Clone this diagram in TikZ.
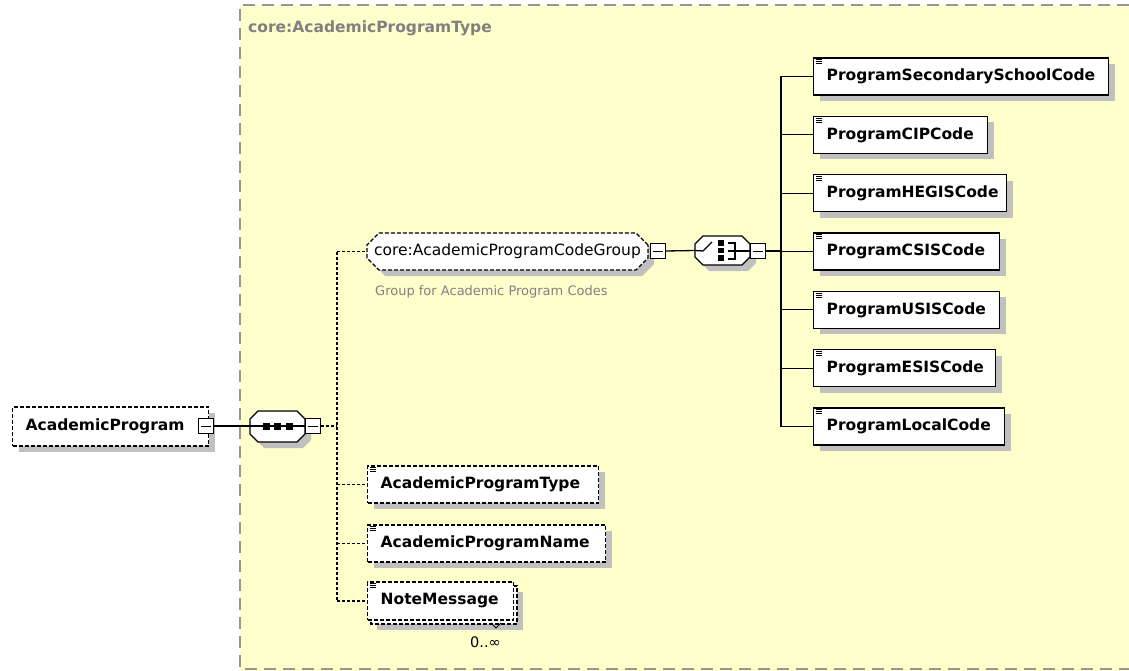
\documentclass[tikz,border=0pt]{standalone}
\usepackage{fontspec}
\setmainfont{DejaVu Sans}
\usetikzlibrary{shapes.misc,shadows}
\definecolor{bgyellow}{RGB}{255,255,204}
\definecolor{shadowgray}{RGB}{192,192,192}
\definecolor{framegray}{RGB}{150,150,150}
\definecolor{textgray}{RGB}{128,128,128}
\newcommand\nf{\fontsize{15.5}{18}\selectfont}
\newcommand\descfont{\fontsize{13}{15}\selectfont}
\tikzset{
  shd/.style={drop shadow={shadow xshift=6pt,shadow yshift=-6pt,fill=shadowgray,opacity=1}},
  ebase/.style={draw=black,fill=white,line width=1.3pt,minimum height=37pt,inner xsep=0pt,inner ysep=0pt,align=left,anchor=west,font=\bfseries\nf},
  ebox/.style={ebase,shd},
  optdash/.style={dash pattern=on 4pt off 2pt},
  optbox/.style={ebox,optdash},
  minusbox/.style={draw=black,fill=white,line width=1pt,minimum size=15pt,inner sep=0pt},
  anch/.style={draw=none,inner sep=0pt,minimum width=55pt,minimum height=30pt},
  octline/.style={draw=black,fill=white,line width=1.3pt},
  conn/.style={line width=1.3pt},
  dconn/.style={line width=1.2pt,dash pattern=on 3pt off 2pt},
  icon/.style={line width=0.8pt},
}
\begin{document}
\begin{tikzpicture}[x=1pt,y=-1pt]
\useasboundingbox (0,0) rectangle (1129,671);
% background frame
\fill[bgyellow] (240,5) rectangle (1135,671);
\draw[framegray,line width=1.5pt,dash pattern=on 12pt off 7pt] (1129,5) -- (240,5) -- (240,669) -- (1129,669);
\node[anchor=base west,text=textgray,font=\bfseries\nf,inner sep=0pt] (title) at (248,33) {core:AcademicProgramType};

% root element
\node[optbox,text width=196pt,minimum height=39pt] (ap) at (12,426.5) {\hspace*{13pt}AcademicProgram};
\node[minusbox] (apm) at (206,426) {};

% sequence compositor
\node[anch] (seq) at (277.5,426.5) {};
\fill[shadowgray] (264,417)--(303,417)--(311,425)--(311,440)--(303,448)--(264,448)--(256,440)--(256,425)--cycle;
\path[octline] (258,411)--(297,411)--(305,419)--(305,434)--(297,442)--(258,442)--(250,434)--(250,419)--cycle;
\node[minusbox] (seqm) at (312.5,426) {};
\coordinate (lv) at (337,426);

% group
\node[chamfered rectangle,chamfered rectangle xsep=6pt,chamfered rectangle ysep=6pt,draw=black,fill=white,line width=1.3pt,optdash,shd,minimum width=281pt,minimum height=37pt,inner sep=0pt,font=\nf] (grp) at (507.5,251.5) {core:AcademicProgramCodeGroup};
\node[minusbox] (grpm) at (657.5,251) {};
\node[anchor=base west,text=textgray,font=\descfont,inner sep=0pt] (desc) at (375,295) {Group for Academic Program Codes};

% choice compositor
\node[anch] (cho) at (722.5,250.5) {};
\fill[shadowgray] (709,242)--(748,242)--(756,250)--(756,263)--(748,271)--(709,271)--(701,263)--(701,250)--cycle;
\path[octline] (703,236)--(742,236)--(750,244)--(750,257)--(742,265)--(703,265)--(695,257)--(695,244)--cycle;
\node[minusbox] (chom) at (757.5,251) {};
\coordinate (rv) at (781,251);

% right elements
\node[ebox,text width=295pt] (psc) at (813,76.5) {\hspace*{13pt}ProgramSecondarySchoolCode};
\node[ebox,text width=174pt] (cip) at (813,134.8) {\hspace*{13pt}ProgramCIPCode};
\node[ebox,text width=193pt] (heg) at (813,193.2) {\hspace*{13pt}ProgramHEGISCode};
\node[ebox,text width=186pt] (csi) at (813,251.5) {\hspace*{13pt}ProgramCSISCode};
\node[ebox,text width=186pt] (usi) at (813,309.8) {\hspace*{13pt}ProgramUSISCode};
\node[ebox,text width=182pt] (esi) at (813,368.2) {\hspace*{13pt}ProgramESISCode};
\node[ebox,text width=191pt] (loc) at (813,426.5) {\hspace*{13pt}ProgramLocalCode};

% left children
\node[optbox,text width=231pt] (apt) at (367,484.5) {\hspace*{13pt}AcademicProgramType};
\node[optbox,text width=238pt] (apn) at (367,543.5) {\hspace*{13pt}AcademicProgramName};
\draw[line width=1.3pt,optdash,fill=white,shd] (371,586) rectangle (517,624);
\node[ebase,optdash,text width=146pt,minimum height=38pt] (note) at (367,601) {\hspace*{13pt}NoteMessage};
\draw[line width=0.8pt] (491,623) -- (496,628) -- (501,623);
\node[anchor=base west,font=\fontsize{14.5}{16}\selectfont,inner sep=0pt] (mult) at (470,647) {0..∞};

% icons
\foreach \n in {psc,cip,heg,csi,usi,esi,loc,apt,apn,note}{
  \foreach \k in {2.5,4.5,6.5}{
    \draw[icon] ([shift={(3,\k)}]\n.north west) -- ++(6,0);
  }
}

% connectors
\draw[conn] (apm.east) -- (seqm.west);
\draw[dconn] (seqm.east) -- (lv);
\draw[dconn] (grp.west -| lv) -- (note.west -| lv);
\foreach \n in {grp,apt,apn,note}{
  \draw[dconn] (\n.west -| lv) -- (\n.west);
}
\draw[conn] (grpm.east) -- (cho.west);
\draw[conn] (chom.east) -- (rv);
\draw[conn] (psc.west -| rv) -- (loc.west -| rv);
\foreach \n in {psc,cip,heg,csi,usi,esi,loc}{
  \draw[conn] (\n.west -| rv) -- (\n.west);
}

% minus signs
\foreach \n in {apm,seqm,grpm,chom}{
  \draw[line width=1pt] ([xshift=3]\n.west) -- ([xshift=-3]\n.east);
}

% sequence glyph
\foreach \c in {266,277.5,289}{
  \fill[black] (\c-3.5,422.5) rectangle (\c+3.5,429.5);
}
% choice glyph
\draw[conn] (cho.west) -- (703,251) -- (712,242);
\fill[black] (718,240) rectangle (724,245.5);
\fill[black] (718,247.7) rectangle (724,253.3);
\fill[black] (718,255) rectangle (724,260.7);
\draw[conn] (728,243) -- (735,243) -- (735,259) -- (728,259);
\draw[conn] (728,251) -- (chom.west);
\end{tikzpicture}
\end{document}
